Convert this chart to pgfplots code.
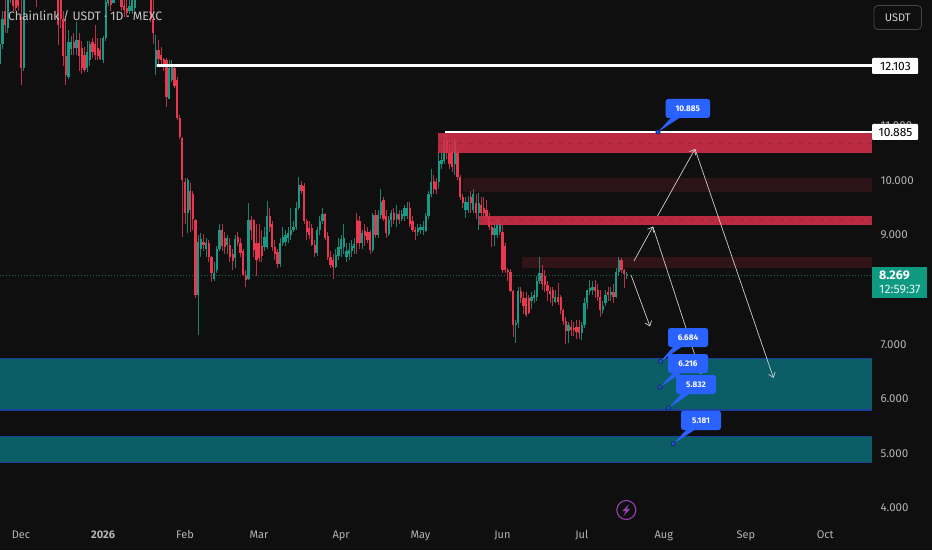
\documentclass[border=0pt]{standalone}
\usepackage{pgfplots}
\usepackage{pgfplotstable}
\usepackage{fontspec}
\setmainfont{Fira Sans}
\pgfplotsset{compat=1.18}
\usetikzlibrary{arrows.meta}
\definecolor{bg}{HTML}{0F0F0F}
\definecolor{upc}{HTML}{169A86}
\definecolor{upw}{HTML}{1F8070}
\definecolor{dnc}{HTML}{E8384F}
\definecolor{dnw}{HTML}{B93048}
\definecolor{zred}{HTML}{D8304A}
\definecolor{zteal}{HTML}{0B5D66}
\definecolor{zblue}{HTML}{1D3F9A}
\definecolor{lbl}{HTML}{B4B4B4}
\definecolor{tv}{HTML}{2962FF}
\definecolor{arr}{HTML}{CCCCCC}
\definecolor{pur}{HTML}{9A3FB0}
\definecolor{lastg}{HTML}{0E9981}
\pgfplotstableread{
d o h l c
-8 12.14 12.7 12.1 12.5
-7 12.5 13.1 12.4 12.95
-6 13.1 13.3 12.7 12.85
-5 12.8 13.6 12.7 13.45
-4 13.45 13.9 13.25 13.7
-3 13.6 13.8 13.1 13.2
-2 13.5 13.7 13.1 13.15
-1 13.4 13.6 13.1 13.2
0 13.0 13.3 11.75 12.05
1 12.05 13.7 12.0 13.5
2 13.5 13.9 13.35 13.8
3 13.8 14.0 13.4 13.7
4 13.7 14.0 13.4 13.9
5 13.9 14.2 13.5 14.0
6 13.8 14.0 13.18 13.5
7 13.5 14.0 13.4 13.9
8 13.9 14.2 13.6 14.1
9 14.1 14.4 13.7 13.9
10 13.9 14.2 13.6 13.8
11 13.8 14.1 13.5 14.0
12 14.0 14.2 13.5 13.8
13 13.8 14.0 13.4 13.6
14 13.6 13.8 12.48 12.85
15 13.4 13.6 12.8 12.95
16 12.95 13.1 12.1 12.27
17 12.27 12.95 11.75 11.93
18 11.9 12.75 11.85 12.54
19 12.4 12.65 12.3 12.54
20 12.54 12.7 12.3 12.42
21 12.42 12.9 12.3 12.57
22 12.57 12.7 12.0 12.27
23 12.42 12.55 11.95 12.05
24 12.3 12.45 11.98 12.03
25 12.05 12.55 11.98 12.35
26 12.2 12.55 12.1 12.5
27 12.54 12.6 12.25 12.35
28 12.5 12.85 12.2 12.3
29 12.42 12.6 12.2 12.27
30 12.38 12.6 12.2 12.23
31 12.2 12.65 12.15 12.6
32 12.6 13.33 12.55 13.27
33 13.25 13.7 13.2 13.5
34 13.5 13.8 13.1 13.21
35 13.25 13.8 13.25 13.6
36 13.6 13.9 13.4 13.7
37 13.7 13.9 13.35 13.5
38 13.5 13.7 13.1 13.18
39 13.2 13.4 13.0 13.12
40 13.15 13.4 13.0 13.06
41 13.1 13.5 13.05 13.2
42 13.1 13.8 13.05 13.6
43 13.15 13.8 13.1 13.7
44 13.7 14.0 13.4 13.9
45 13.9 14.1 13.5 13.7
46 13.7 14.0 13.4 13.8
47 13.8 14.1 13.5 13.6
48 13.6 13.9 13.4 13.7
49 13.7 13.9 12.9 12.95
50 12.95 13.5 12.5 12.7
51 12.08 12.66 11.93 12.39
52 12.39 12.57 12.1 12.23
53 12.3 12.45 12.1 12.2
54 12.23 12.25 12.0 12.08
55 12.2 12.25 11.35 11.53
56 11.5 12.2 11.5 12.05
57 11.84 12.2 11.8 12.08
58 12.05 12.1 11.7 11.72
59 11.84 11.9 11.1 11.14
60 11.14 11.2 10.75 10.8
61 10.78 10.8 8.97 10.0
62 9.97 10.05 9.2 9.4
63 9.4 10.05 9.03 10.0
64 9.8 9.95 9.05 9.45
65 9.75 9.8 9.1 9.3
66 9.27 9.3 7.85 7.9
67 7.9 9.0 7.17 8.88
68 8.75 9.03 8.6 8.92
69 8.88 9.02 8.7 8.82
70 8.75 8.95 8.6 8.85
71 8.85 8.9 8.5 8.6
72 8.6 8.62 8.14 8.3
73 8.2 8.5 8.15 8.3
74 8.35 8.8 8.3 8.75
75 8.75 9.2 8.7 9.09
76 9.09 9.2 8.7 8.8
77 8.95 9.05 8.65 8.78
78 8.82 9.0 8.65 8.95
79 8.82 8.95 8.5 8.6
80 8.65 8.75 8.35 8.53
81 8.58 9.0 8.4 8.93
82 8.97 9.05 8.8 8.85
83 8.85 8.95 8.6 8.67
84 8.7 8.75 8.25 8.27
85 8.27 8.35 8.05 8.18
86 8.2 9.58 8.18 9.27
87 9.27 9.35 8.9 9.09
88 9.27 9.3 8.6 8.72
89 8.85 9.2 8.25 8.55
90 8.85 9.2 8.5 8.57
91 8.8 9.1 8.5 8.62
92 8.78 9.15 8.7 8.97
93 8.78 9.62 8.75 9.34
94 9.34 9.5 9.05 9.15
95 9.2 9.25 8.7 8.78
96 8.78 8.9 8.55 8.66
97 8.68 8.75 8.4 8.47
98 8.47 8.95 8.42 8.85
99 8.85 9.15 8.8 8.97
100 8.88 9.1 8.8 9.0
101 8.95 9.15 8.85 9.03
102 9.0 9.5 8.9 9.1
103 9.1 9.25 9.05 9.15
104 9.15 9.6 9.1 9.49
105 9.49 10.07 9.45 9.92
106 9.92 9.98 9.75 9.8
107 9.89 9.95 9.2 9.25
108 9.25 9.3 8.9 9.05
109 9.12 9.25 8.92 9.0
110 9.12 9.2 8.8 8.82
111 8.82 8.9 8.6 8.67
112 8.67 9.15 8.62 9.1
113 9.1 9.35 9.0 9.25
114 9.25 9.5 9.2 9.38
115 9.38 9.4 8.9 8.95
116 8.98 9.05 8.55 8.6
117 8.6 8.7 8.4 8.45
118 8.55 8.65 8.2 8.42
119 8.42 8.75 8.4 8.63
120 8.62 8.95 8.55 8.78
121 8.75 9.0 8.6 8.92
122 8.78 9.2 8.65 8.95
123 8.6 8.85 8.5 8.7
124 8.65 8.85 8.55 8.72
125 8.7 8.9 8.6 8.8
126 8.77 8.95 8.65 8.84
127 9.27 9.4 8.65 8.85
128 9.25 9.35 8.75 8.85
129 8.85 9.1 8.75 9.03
130 9.08 9.2 8.8 8.98
131 9.05 9.15 8.85 8.9
132 9.05 9.1 8.65 8.72
133 8.72 9.4 8.68 9.36
134 9.36 9.45 8.95 9.0
135 9.0 9.45 8.95 9.36
136 9.36 9.85 9.3 9.6
137 9.65 9.7 9.25 9.3
138 9.35 9.45 8.95 9.03
139 9.02 9.35 8.98 9.27
140 9.27 9.45 9.15 9.4
141 9.4 9.5 9.2 9.27
142 9.3 9.55 9.15 9.38
143 9.38 9.45 9.2 9.27
144 9.3 9.45 9.25 9.38
145 9.35 9.55 9.25 9.5
146 9.35 9.6 9.3 9.5
147 9.5 9.6 9.15 9.2
148 9.25 9.35 9.05 9.1
149 9.1 9.15 8.9 9.05
150 9.05 9.2 8.98 9.12
151 9.1 9.2 9.02 9.15
152 9.1 9.25 9.0 9.15
153 9.08 9.4 9.05 9.35
154 9.35 9.8 9.3 9.75
155 9.75 10.2 9.7 9.97
156 9.98 10.1 9.75 9.85
157 9.97 10.05 9.75 9.82
158 9.97 10.5 9.85 10.35
159 10.3 10.5 10.2 10.37
160 10.35 10.86 10.3 10.72
161 10.74 10.85 10.4 10.5
162 10.5 10.75 10.2 10.3
163 10.52 10.76 10.15 10.25
164 10.3 10.78 10.1 10.72
165 10.5 10.55 10.0 10.07
166 10.07 10.1 9.65 9.7
167 9.7 9.75 9.5 9.58
168 9.45 9.7 9.32 9.6
169 9.45 9.72 9.4 9.6
170 9.7 9.8 9.4 9.58
171 9.45 9.85 9.4 9.75
172 9.58 9.75 9.3 9.4
173 9.4 9.77 9.1 9.58
174 9.55 9.7 9.35 9.4
175 9.5 9.7 9.35 9.4
176 9.45 9.65 9.3 9.33
177 9.33 9.4 9.1 9.15
178 9.15 9.25 8.78 9.0
179 9.0 9.25 8.8 9.12
180 9.0 9.3 8.95 9.2
181 9.05 9.3 9.0 9.2
182 9.05 9.2 8.3 8.36
183 8.8 8.85 8.3 8.36
184 8.36 8.4 8.15 8.33
185 8.33 8.38 7.95 7.98
186 7.98 8.0 7.14 7.35
187 7.35 7.45 7.02 7.38
188 7.38 8.05 7.3 7.98
189 7.98 8.05 7.75 7.85
190 7.85 7.95 7.55 7.7
191 7.85 7.95 7.5 7.53
192 7.85 7.9 7.55 7.58
193 7.8 7.95 7.65 7.87
194 7.85 8.0 7.75 7.9
195 7.87 8.25 7.8 8.15
196 8.15 8.6 8.1 8.3
197 8.3 8.45 8.0 8.1
198 8.25 8.35 7.95 8.08
199 8.08 8.15 7.8 7.98
200 7.98 8.05 7.75 7.92
201 8.0 8.05 7.7 7.85
202 7.78 8.0 7.75 7.87
203 7.87 8.13 7.72 7.78
204 7.87 7.9 7.55 7.63
205 7.63 7.65 7.35 7.42
206 7.42 7.5 7.0 7.24
207 7.24 7.4 7.02 7.36
208 7.32 7.45 7.15 7.26
209 7.3 7.4 7.15 7.26
210 7.32 7.45 7.1 7.23
211 7.32 7.45 7.1 7.2
212 7.2 7.4 7.08 7.35
213 7.35 7.85 7.3 7.75
214 7.75 8.0 7.65 7.99
215 7.98 8.17 7.9 8.03
216 8.0 8.15 7.9 8.05
217 8.05 8.17 7.85 7.97
218 7.99 8.1 7.8 7.87
219 7.87 8.0 7.5 7.62
220 7.62 7.8 7.55 7.7
221 7.75 8.0 7.7 7.9
222 7.95 8.05 7.8 7.9
223 7.9 8.05 7.8 7.95
224 7.95 8.1 7.75 7.87
225 7.87 8.4 7.85 8.33
226 8.33 8.6 8.25 8.55
227 8.55 8.58 8.3 8.36
228 8.36 8.38 8.03 8.28
229 8.26 8.33 8.2 8.28
}\candles
\pgfplotsset{
  wick/.style={forget plot, draw=#1, line width=1pt,
    quiver={u=0, v={\thisrow{h}-\thisrow{l}}}},
  body/.style={forget plot, draw=#1, line width=2.25pt,
    quiver={u=0, v={\thisrow{c}-\thisrow{o}}}},
  isup/.style={restrict expr to domain={\thisrow{c}-\thisrow{o}}{0:100}},
  isdn/.style={restrict expr to domain={\thisrow{c}-\thisrow{o}}{-100:-0.00001}},
}
\newcommand{\callout}[7]{% box x1 y1 x2 y2, point px py, text
  \fill[tv, rounded corners=2.5pt] (#1,#2) rectangle (#3,#4);
  \fill[tv] (#1+6,#4-1) -- (#5,#6) -- (#1+15,#4-1) -- cycle;
  \node[text=white, font=\fontsize{8.2}{9}\selectfont\bfseries, inner sep=0pt] at ({(#1+#3)/2},{(#2+#4)/2}) {#7};
  \fill[draw=zblue!60!black, fill=tv!80!black, line width=0.6pt] (#5,#6) circle (2.2);
}
\begin{document}
\begin{tikzpicture}
\useasboundingbox (0,0) rectangle (932pt,550pt);
\fill[bg] (0,0) rectangle (932pt,550pt);
\begin{axis}[
  at={(0pt,26pt)}, anchor=south west,
  scale only axis, width=872pt, height=524pt,
  xmin=-7.94, xmax=321.7, ymin=3.707, ymax=13.304,
  axis line style={draw=none},
  major tick length=0pt,
  tick style={draw=none},
  xtick={0,31,62,90,121,151,182,212,243,274,304},
  xticklabels={Dec,{\bfseries 2026},Feb,Mar,Apr,May,Jun,Jul,Aug,Sep,Oct},
  x tick label style={text=lbl, font=\fontsize{11}{13}\selectfont, yshift=-3pt},
  ytick={4,5,6,7,8,9,10,11},
  yticklabels={4.000,5.000,6.000,7.000,,9.000,10.000,11.000},
  yticklabel pos=right,
  y tick label style={text=lbl, font=\fontsize{11.5}{13}\selectfont, anchor=west, xshift=5pt},
]
% price line
\addplot[forget plot, draw=upc!70!black, line width=0.5pt, dash pattern=on 1pt off 2pt] coordinates {(-7.94,8.269) (321.7,8.269)};
% candles
\addplot[wick=upw, isup] table[x=d, y=l] {\candles};
\addplot[wick=dnw, isdn] table[x=d, y=l] {\candles};
\addplot[body=upc, isup] table[x=d, y=o] {\candles};
\addplot[body=dnc, isdn] table[x=d, y=o] {\candles};
% red zones
\addplot[forget plot, fill=zred, fill opacity=0.85, draw=none] coordinates {(157.7,10.868) (321.7,10.868) (321.7,10.502) (157.7,10.502)} -- cycle;
\addplot[forget plot, fill=zred, fill opacity=0.15, draw=none] coordinates {(167.1,10.053) (321.7,10.053) (321.7,9.787) (167.1,9.787)} -- cycle;
\addplot[forget plot, fill=zred, fill opacity=0.85, draw=none] coordinates {(173.2,9.348) (321.7,9.348) (321.7,9.183) (173.2,9.183)} -- cycle;
\addplot[forget plot, fill=zred, fill opacity=0.17, draw=none] coordinates {(189.4,8.592) (321.7,8.592) (321.7,8.40) (189.4,8.40)} -- cycle;
% midlines of zones
\addplot[forget plot, draw=black, draw opacity=0.12, line width=0.4pt, dash pattern=on 5pt off 5pt] coordinates {(157.7,10.685) (321.7,10.685)};
\addplot[forget plot, draw=black, draw opacity=0.12, line width=0.4pt, dash pattern=on 5pt off 5pt] coordinates {(173.2,9.265) (321.7,9.265)};
% teal zones
\addplot[forget plot, fill=zteal, draw=none] coordinates {(-7.94,6.742) (321.7,6.742) (321.7,5.795) (-7.94,5.795)} -- cycle;
\addplot[forget plot, fill=zteal, draw=none] coordinates {(-7.94,5.306) (321.7,5.306) (321.7,4.837) (-7.94,4.837)} -- cycle;
\addplot[forget plot, draw=zblue, line width=1.2pt] coordinates {(-7.94,6.742) (321.7,6.742)};
\addplot[forget plot, draw=zblue, line width=1.2pt] coordinates {(-7.94,5.795) (321.7,5.795)};
\addplot[forget plot, draw=zblue, line width=1.2pt] coordinates {(-7.94,5.306) (321.7,5.306)};
\addplot[forget plot, draw=zblue, line width=1.2pt] coordinates {(-7.94,4.837) (321.7,4.837)};
% horizontal levels
\addplot[forget plot, draw=white, line width=2.2pt] coordinates {(51.4,12.103) (321.7,12.103)};
\addplot[forget plot, draw=white, line width=2.2pt] coordinates {(160.3,10.885) (321.7,10.885)};
\end{axis}
\begin{scope}[x=1pt, y=-1pt, shift={(0pt,550pt)}]
  % title
  \node[anchor=west, text=white!78!black, inner sep=0pt, font=\fontsize{12.2}{14}\selectfont] at (8,16) {Chainlink / USDT · 1D · MEXC};
  % currency button
  \draw[draw=white!27!black, line width=0.8pt, rounded corners=4pt] (874,5.5) rectangle (921.5,29.5);
  \node[text=white!82!black, font=\fontsize{11}{13}\selectfont, inner sep=0pt] at (897.7,17.5) {USDT};
  % price labels
  \fill[white, rounded corners=1pt] (872,58) rectangle (918,74);
  \node[text=black, font=\fontsize{12}{13}\selectfont, inner sep=0pt] at (895.5,66) {12.103};
  \fill[white, rounded corners=1pt] (872,124) rectangle (918,140);
  \node[text=black, font=\fontsize{12}{13}\selectfont, inner sep=0pt] at (895.5,132) {10.885};
  \fill[lastg] (872,267) rectangle (927,297.5);
  \node[anchor=west, text=white, font=\fontsize{12.5}{13}\selectfont\bfseries, inner sep=0pt] at (879,275.5) {8.269};
  \node[anchor=west, text=white!90!lastg, font=\fontsize{12.3}{13}\selectfont, inner sep=0pt] at (879,289.5) {12:59:37};
  % arrows
  \begin{scope}[draw=arr, line width=0.7pt, -{Straight Barb[length=4.5pt,width=7pt]}]
    \draw (634,261) -- (653,226.5);
    \draw (653,227) -- (701,374);
    \draw (657.5,216) -- (695,149);
    \draw (695,149) -- (773.5,378);
    \draw (631,275) -- (650,326.5);
  \end{scope}
  % callouts
  \callout{665.7}{99}{710}{118}{658}{132}{10.885}
  \callout{668}{328}{708}{347}{660.5}{361.5}{6.684}
  \callout{668}{354}{708}{373}{660}{387}{6.216}
  \callout{676}{375}{716}{394}{668.5}{408}{5.832}
  \callout{681}{410.7}{721}{430}{673.5}{443.7}{5.181}
  % lightning icon
  \draw[pur, line width=1.1pt] (626.3,510) circle (9.5);
  \fill[pur] (629,504) -- (622.3,511.2) -- (625.8,511.2) -- (623.6,516) -- (630.2,508.8) -- (626.7,508.8) -- cycle;
\end{scope}
\end{tikzpicture}
\end{document}
